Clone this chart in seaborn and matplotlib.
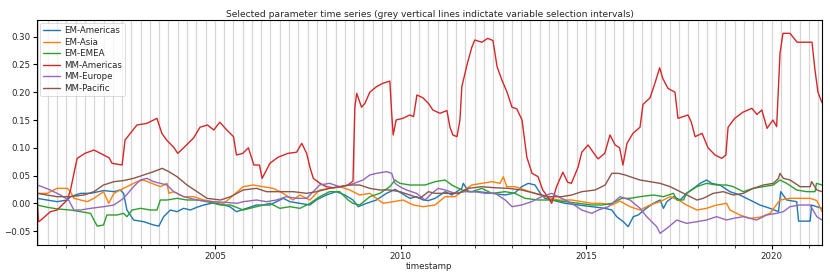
import pandas as pd
import numpy as np
import seaborn as sns
import matplotlib
matplotlib.use("Agg")
import matplotlib.pyplot as plt
import matplotlib.dates as mdates

# values, time in decimal years
em_americas_t = [2000.21, 2000.48, 2000.75, 2001.02, 2001.11, 2001.38, 2001.65, 2002.0, 2002.28, 2002.45, 2002.54, 2002.63,
                 2002.81, 2003.08, 2003.35, 2003.49, 2003.62, 2003.8, 2003.98, 2004.16, 2004.34, 2004.52, 2004.7, 2004.97,
                 2005.24, 2005.4, 2005.58, 2005.85, 2006.12, 2006.48, 2006.84, 2007.02, 2007.29, 2007.56, 2007.73, 2008.0,
                 2008.27, 2008.5, 2008.72, 2008.86, 2009.08, 2009.35, 2009.62, 2009.85, 2009.98, 2010.25, 2010.43, 2010.61,
                 2010.75, 2010.93, 2011.2, 2011.38, 2011.65, 2011.69, 2011.83, 2012.1, 2012.46, 2012.82, 2013.08, 2013.26,
                 2013.44, 2013.62, 2013.76, 2013.89, 2014.07, 2014.43, 2014.79, 2015.15, 2015.51, 2015.69, 2015.82, 2016.0,
                 2016.13, 2016.27, 2016.4, 2016.6, 2016.81, 2016.99, 2017.08, 2017.17, 2017.35, 2017.53, 2017.7, 2017.89,
                 2018.07, 2018.24, 2018.38, 2018.6, 2018.87, 2019.14, 2019.41, 2019.68, 2019.95, 2020.18, 2020.24, 2020.4,
                 2020.67, 2020.72, 2021.03, 2021.07, 2021.2, 2021.35]
em_americas_v = [0.009, 0.006, 0.003, 0.006, 0.012, 0.018, 0.018, 0.023, 0.021, 0.024, 0.018, -0.012,
                 -0.03, -0.033, -0.039, -0.041, -0.024, -0.012, -0.015, -0.009, -0.012, -0.007, -0.003, 0.001,
                 -0.003, -0.006, -0.015, -0.009, -0.003, -0.003, 0.009, 0.003, 0.0, -0.003, 0.006, 0.015,
                 0.021, 0.015, 0.006, -0.006, 0.0, 0.006, 0.018, 0.025, 0.02, 0.009, 0.012, 0.006,
                 0.005, 0.009, 0.021, 0.015, 0.027, 0.036, 0.021, 0.021, 0.018, 0.015, 0.019, 0.03,
                 0.036, 0.033, 0.018, 0.009, 0.006, 0.0, -0.003, -0.006, -0.009, -0.012, -0.024, -0.033,
                 -0.042, -0.024, -0.021, -0.01, 0.0, 0.006, -0.009, 0.003, 0.012, 0.006, 0.018, 0.027,
                 0.036, 0.042, 0.036, 0.033, 0.021, 0.015, 0.006, -0.003, -0.009, -0.015, 0.021, 0.006,
                 0.003, -0.032, -0.032, -0.003, -0.006, -0.009]

em_asia_t = [2000.21, 2000.48, 2000.75, 2001.02, 2001.11, 2001.2, 2001.38, 2001.56, 2001.74, 2002.0, 2002.14, 2002.28,
             2002.45, 2002.63, 2002.9, 2003.08, 2003.3, 2003.53, 2003.71, 2003.76, 2003.89, 2004.16, 2004.43, 2004.7,
             2004.97, 2005.24, 2005.4, 2005.76, 2006.03, 2006.3, 2006.57, 2006.84, 2007.1, 2007.29, 2007.56, 2007.82,
             2008.09, 2008.36, 2008.63, 2008.9, 2009.17, 2009.35, 2009.53, 2009.8, 2010.07, 2010.34, 2010.61, 2010.93,
             2011.2, 2011.47, 2011.65, 2011.92, 2012.19, 2012.46, 2012.68, 2012.77, 2012.86, 2013.08, 2013.35, 2013.62,
             2013.89, 2014.25, 2014.61, 2014.88, 2015.15, 2015.42, 2015.69, 2015.91, 2016.18, 2016.45, 2016.72, 2016.99,
             2017.26, 2017.48, 2017.7, 2017.98, 2018.24, 2018.51, 2018.78, 2018.87, 2019.14, 2019.41, 2019.68, 2019.95,
             2020.22, 2020.49, 2020.76, 2021.03, 2021.21, 2021.35]
em_asia_v = [0.018, 0.018, 0.027, 0.027, 0.021, 0.009, 0.006, 0.003, 0.009, 0.021, 0.0, 0.018,
             0.024, 0.03, 0.039, 0.042, 0.036, 0.03, 0.036, 0.018, 0.021, 0.012, 0.012, 0.006,
             0.003, 0.0, 0.009, 0.03, 0.033, 0.03, 0.027, 0.018, 0.006, 0.015, 0.006, 0.024,
             0.027, 0.03, 0.024, 0.015, 0.018, 0.009, 0.0, 0.003, 0.006, -0.003, -0.006, -0.003,
             0.012, 0.012, 0.021, 0.033, 0.036, 0.039, 0.036, 0.048, 0.03, 0.03, 0.024, 0.018,
             0.012, 0.006, 0.006, 0.003, 0.0, 0.0, -0.003, 0.004, -0.006, -0.012, -0.003, 0.003,
             0.012, 0.006, -0.003, -0.012, -0.009, -0.003, 0.0, -0.012, -0.021, -0.027, -0.025, -0.018,
             0.006, 0.009, 0.009, 0.009, 0.005, -0.015]

em_emea_t = [2000.21, 2000.48, 2000.75, 2001.1, 2001.38, 2001.65, 2001.74, 2001.83, 2002.0, 2002.09, 2002.36, 2002.54,
             2002.63, 2002.77, 2003.0, 2003.26, 2003.44, 2003.53, 2003.71, 2003.98, 2004.25, 2004.52, 2004.79, 2005.15,
             2005.42, 2005.76, 2006.12, 2006.48, 2006.75, 2007.02, 2007.29, 2007.56, 2007.82, 2008.09, 2008.36, 2008.59,
             2008.72, 2008.9, 2009.17, 2009.44, 2009.71, 2009.85, 2009.98, 2010.25, 2010.66, 2010.93, 2011.2, 2011.38,
             2011.65, 2011.92, 2012.19, 2012.46, 2012.82, 2013.08, 2013.35, 2013.71, 2014.07, 2014.43, 2014.79, 2015.15,
             2015.42, 2015.69, 2015.96, 2016.18, 2016.45, 2016.81, 2017.08, 2017.35, 2017.44, 2017.62, 2017.7, 2017.98,
             2018.24, 2018.51, 2018.78, 2018.96, 2019.23, 2019.5, 2019.77, 2020.04, 2020.22, 2020.4, 2020.67, 2020.94,
             2021.16, 2021.2, 2021.35]
em_emea_v = [-0.003, -0.007, -0.01, -0.012, -0.015, -0.018, -0.03, -0.041, -0.039, -0.021, -0.021, -0.018,
             -0.024, -0.012, -0.009, -0.012, -0.012, 0.006, 0.006, 0.009, 0.006, 0.006, 0.003, -0.003,
             -0.003, -0.012, -0.006, 0.0, -0.009, -0.006, -0.009, 0.0, 0.012, 0.021, 0.021, 0.006,
             0.0, -0.003, 0.012, 0.018, 0.03, 0.042, 0.036, 0.033, 0.033, 0.039, 0.042, 0.033,
             0.024, 0.021, 0.027, 0.018, 0.021, 0.018, 0.009, 0.006, 0.006, 0.003, 0.0, -0.003,
             -0.003, 0.0, 0.009, 0.009, 0.012, 0.015, 0.012, 0.018, 0.006, 0.006, 0.018, 0.03,
             0.036, 0.033, 0.033, 0.03, 0.021, 0.027, 0.03, 0.033, 0.042, 0.036, 0.024, 0.021,
             0.021, 0.036, 0.033]

mm_americas_t = [2000.21, 2000.25, 2000.3, 2000.57, 2000.75, 2001.02, 2001.11, 2001.24, 2001.29, 2001.5, 2001.74, 2002.0,
                 2002.15, 2002.23, 2002.5, 2002.58, 2002.71, 2002.9, 2003.17, 2003.44, 2003.57, 2003.7, 2003.9, 2004.0,
                 2004.16, 2004.43, 2004.6, 2004.8, 2004.97, 2005.13, 2005.32, 2005.5, 2005.58, 2005.75, 2005.9, 2006.05,
                 2006.2, 2006.27, 2006.35, 2006.48, 2006.7, 2006.97, 2007.2, 2007.34, 2007.47, 2007.56, 2007.65, 2007.83,
                 2008.0, 2008.2, 2008.4, 2008.58, 2008.72, 2008.77, 2008.82, 2008.95, 2009.04, 2009.17, 2009.35, 2009.52,
                 2009.71, 2009.76, 2009.8, 2009.88, 2010.06, 2010.25, 2010.35, 2010.44, 2010.6, 2010.75, 2010.87, 2011.06,
                 2011.25, 2011.33, 2011.41, 2011.52, 2011.6, 2011.65, 2011.8, 2011.92, 2012.0, 2012.19, 2012.35, 2012.49,
                 2012.6, 2012.73, 2012.87, 2013.0, 2013.13, 2013.27, 2013.4, 2013.54, 2013.7, 2013.83, 2014.02, 2014.07,
                 2014.2, 2014.37, 2014.5, 2014.6, 2014.78, 2014.88, 2015.05, 2015.24, 2015.32, 2015.5, 2015.64, 2015.78,
                 2015.9, 2015.99, 2016.1, 2016.26, 2016.45, 2016.53, 2016.72, 2016.85, 2016.98, 2017.06, 2017.2, 2017.39,
                 2017.47, 2017.74, 2017.83, 2017.93, 2018.12, 2018.28, 2018.47, 2018.65, 2018.76, 2018.82, 2019.0, 2019.22,
                 2019.46, 2019.6, 2019.73, 2019.87, 2020.03, 2020.13, 2020.22, 2020.3, 2020.49, 2020.68, 2020.89, 2021.08,
                 2021.16, 2021.24, 2021.35]
mm_americas_v = [0.012, -0.033, -0.031, -0.015, -0.012, 0.006, 0.024, 0.066, 0.081, 0.09, 0.096, 0.087,
                 0.082, 0.072, 0.069, 0.114, 0.125, 0.141, 0.144, 0.153, 0.126, 0.114, 0.10, 0.09,
                 0.10, 0.118, 0.137, 0.141, 0.132, 0.146, 0.132, 0.12, 0.087, 0.09, 0.10, 0.069,
                 0.069, 0.045, 0.055, 0.072, 0.083, 0.09, 0.092, 0.108, 0.09, 0.065, 0.045, 0.036,
                 0.03, 0.028, 0.03, 0.033, 0.04, 0.173, 0.198, 0.173, 0.18, 0.2, 0.21, 0.216,
                 0.22, 0.162, 0.123, 0.15, 0.153, 0.159, 0.156, 0.195, 0.19, 0.18, 0.168, 0.162,
                 0.167, 0.137, 0.123, 0.12, 0.15, 0.21, 0.252, 0.281, 0.294, 0.29, 0.297, 0.293,
                 0.246, 0.222, 0.2, 0.173, 0.17, 0.15, 0.083, 0.054, 0.048, 0.024, 0.006, 0.0,
                 0.03, 0.056, 0.038, 0.036, 0.065, 0.092, 0.105, 0.087, 0.08, 0.09, 0.123, 0.105,
                 0.1, 0.069, 0.108, 0.126, 0.137, 0.178, 0.19, 0.216, 0.244, 0.225, 0.207, 0.2,
                 0.153, 0.159, 0.146, 0.12, 0.126, 0.10, 0.087, 0.081, 0.087, 0.137, 0.153, 0.164,
                 0.171, 0.16, 0.168, 0.135, 0.15, 0.138, 0.27, 0.306, 0.306, 0.29, 0.29, 0.29,
                 0.24, 0.2, 0.181]

mm_europe_t = [2000.21, 2000.34, 2000.57, 2000.84, 2001.06, 2001.2, 2001.38, 2001.65, 2002.0, 2002.28, 2002.54, 2002.81,
               2002.99, 2003.17, 2003.35, 2003.53, 2003.71, 2003.89, 2004.16, 2004.52, 2004.88, 2005.24, 2005.6, 2005.76,
               2006.12, 2006.39, 2006.66, 2006.93, 2007.2, 2007.47, 2007.65, 2007.82, 2008.09, 2008.36, 2008.63, 2008.99,
               2009.17, 2009.35, 2009.62, 2009.76, 2009.85, 2009.98, 2010.16, 2010.43, 2010.66, 2010.84, 2011.02, 2011.2,
               2011.47, 2011.74, 2012.01, 2012.28, 2012.55, 2012.82, 2013.0, 2013.26, 2013.53, 2013.8, 2014.07, 2014.34,
               2014.61, 2014.88, 2015.15, 2015.33, 2015.6, 2015.91, 2016.18, 2016.45, 2016.63, 2016.9, 2016.99, 2017.17,
               2017.44, 2017.7, 2017.98, 2018.24, 2018.51, 2018.78, 2018.96, 2019.23, 2019.59, 2019.86, 2020.13, 2020.31,
               2020.49, 2020.76, 2021.03, 2021.21, 2021.35]
mm_europe_v = [0.033, 0.03, 0.024, 0.015, 0.006, -0.012, -0.012, -0.009, -0.006, -0.003, 0.009, 0.03,
               0.042, 0.045, 0.039, 0.036, 0.033, 0.021, 0.012, 0.006, 0.003, 0.002, 0.0, 0.003,
               0.006, 0.003, 0.006, 0.012, 0.009, 0.009, 0.021, 0.033, 0.036, 0.03, 0.033, 0.042,
               0.051, 0.054, 0.057, 0.054, 0.036, 0.03, 0.024, 0.018, 0.006, 0.018, 0.027, 0.024,
               0.018, 0.021, 0.021, 0.018, 0.018, 0.006, -0.006, -0.003, 0.003, 0.012, 0.018, 0.009,
               0.0, -0.012, -0.018, -0.012, -0.006, 0.012, 0.006, -0.009, -0.024, -0.042, -0.054, -0.045,
               -0.03, -0.036, -0.033, -0.03, -0.024, -0.03, -0.027, -0.024, -0.03, -0.021, -0.018, -0.015,
               -0.006, -0.003, -0.003, -0.024, -0.03]

mm_pacific_t = [2000.21, 2000.48, 2000.75, 2001.11, 2001.47, 2001.74, 2002.0, 2002.28, 2002.54, 2002.81, 2003.08, 2003.35,
                2003.58, 2003.76, 2003.98, 2004.25, 2004.52, 2004.79, 2005.15, 2005.42, 2005.76, 2006.12, 2006.39, 2006.75,
                2007.11, 2007.47, 2007.74, 2008.09, 2008.36, 2008.63, 2008.9, 2009.17, 2009.44, 2009.71, 2009.98, 2010.25,
                2010.52, 2010.75, 2010.93, 2011.2, 2011.56, 2011.83, 2012.19, 2012.55, 2012.9, 2013.26, 2013.62, 2013.98,
                2014.34, 2014.61, 2014.88, 2015.24, 2015.51, 2015.69, 2015.87, 2016.05, 2016.18, 2016.45, 2016.72, 2016.99,
                2017.26, 2017.53, 2017.8, 2017.98, 2018.15, 2018.42, 2018.69, 2018.96, 2019.23, 2019.5, 2019.77, 2020.04,
                2020.18, 2020.22, 2020.31, 2020.49, 2020.76, 2021.03, 2021.07, 2021.21, 2021.35]
mm_pacific_v = [0.018, 0.015, 0.012, 0.012, 0.015, 0.021, 0.033, 0.039, 0.041, 0.045, 0.051, 0.057,
                0.063, 0.057, 0.048, 0.033, 0.021, 0.009, 0.006, 0.012, 0.024, 0.027, 0.021, 0.021,
                0.021, 0.018, 0.021, 0.027, 0.03, 0.033, 0.033, 0.027, 0.024, 0.024, 0.021, 0.015,
                0.009, 0.021, 0.018, 0.018, 0.018, 0.027, 0.03, 0.028, 0.027, 0.024, 0.018, 0.012,
                0.012, 0.015, 0.021, 0.024, 0.033, 0.054, 0.054, 0.051, 0.048, 0.042, 0.039, 0.036,
                0.03, 0.021, 0.012, 0.006, 0.009, 0.018, 0.021, 0.015, 0.018, 0.027, 0.033, 0.036,
                0.045, 0.054, 0.045, 0.042, 0.03, 0.03, 0.039, 0.024, 0.021]

names = ["EM-Americas", "EM-Asia", "EM-EMEA", "MM-Americas", "MM-Europe", "MM-Pacific"]
times = [em_americas_t, em_asia_t, em_emea_t, mm_americas_t, mm_europe_t, mm_pacific_t]
vals = [em_americas_v, em_asia_v, em_emea_v, mm_americas_v, mm_europe_v, mm_pacific_v]


def to_date(y):
    yr = int(y)
    return pd.Timestamp(yr, 1, 1) + pd.Timedelta(days=(y - yr) * 365.25)


frames = []
for n, t, v in zip(names, times, vals):
    frames.append(pd.DataFrame({"timestamp": [to_date(y) for y in t], "value": v, "series": n}))
df = pd.concat(frames, ignore_index=True)

sns.set_style("ticks")
plt.rcParams["font.family"] = ["DejaVu Sans"]
plt.rcParams["font.size"] = 6

fig, ax = plt.subplots(figsize=(8.3, 2.77), dpi=100)
fig.subplots_adjust(left=0.0446, right=0.9904, top=0.9278, bottom=0.1155)

# grey vertical lines: selection intervals (quarterly)
for d in pd.date_range("2000-04-01", "2021-04-01", freq="QS"):
    ax.axvline(d, color="0.84", lw=0.9, zorder=0)

sns.lineplot(data=df, x="timestamp", y="value", hue="series", hue_order=names,
             palette="tab10", lw=1.0, estimator=None, ax=ax)

ax.set_xlim(to_date(2000.21), to_date(2021.35))
ax.set_ylim(-0.075, 0.33)
ax.xaxis.set_major_locator(mdates.YearLocator(5))
ax.xaxis.set_minor_locator(mdates.YearLocator(1))
ax.xaxis.set_major_formatter(mdates.DateFormatter("%Y"))
ax.tick_params(axis="both", labelsize=6.2, length=2.8, width=0.8, pad=2, color="black")
ax.tick_params(axis="x", which="minor", length=1.8, width=0.6)
for s in ax.spines.values():
    s.set_color("black")
    s.set_linewidth(0.8)
ax.set_xlabel("timestamp", fontsize=6.2, labelpad=1)
ax.set_ylabel("")
ax.set_title("Selected parameter time series (grey vertical lines indictate variable selection intervals)",
             fontsize=6.6, pad=2.5)
leg = ax.legend(loc="upper left", fontsize=6.2, frameon=True, handlelength=2.0, handletextpad=0.4,
                borderpad=0.35, borderaxespad=0.35, labelspacing=0.3)
leg.get_frame().set_linewidth(0.6)

fig.savefig("out.png", dpi=100)
